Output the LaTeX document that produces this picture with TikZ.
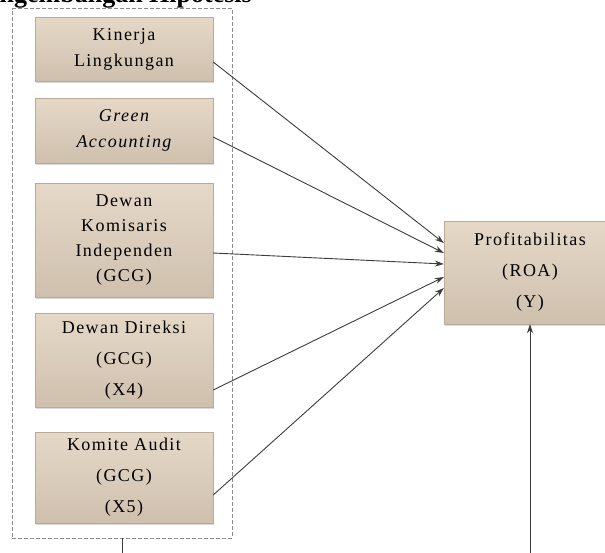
\documentclass[tikz,border=0pt]{standalone}
\usepackage{fontspec}
\setmainfont{Liberation Serif}
\newfontfamily\boxfont[LetterSpace=8]{Liberation Serif}
\usetikzlibrary{arrows.meta,shadows}
\definecolor{boxtop}{RGB}{230,216,199}
\definecolor{boxbot}{RGB}{207,192,174}
\definecolor{boxline}{RGB}{185,170,154}
\definecolor{linegray}{RGB}{60,60,60}
\definecolor{framegray}{RGB}{140,140,140}

\begin{document}
\begin{tikzpicture}[x=1pt,y=-1pt,
	var/.style={draw=boxline,top color=boxtop,bottom color=boxbot,minimum width=178pt,inner sep=0pt,align=center,
		drop shadow={shadow xshift=1.2pt,shadow yshift=-1.5pt,opacity=0.3},font=\boxfont\fontsize{18}{26}\selectfont},
	wide/.style={font=\boxfont\fontsize{18}{31}\selectfont},
	hyp/.style={-{Stealth[length=9pt,width=6pt]},draw=linegray,line width=0.9pt}]
			\useasboundingbox (0,0) rectangle (605,552);
			% judul (terpotong di atas)
			\node[anchor=base east,inner sep=0pt,font=\bfseries\fontsize{26}{26}\selectfont] (judul) at (252,2.5) {Pengembangan Hipotesis};
			% variabel X
			\node[draw=framegray,dash pattern=on 4pt off 2pt,line width=0.8pt,minimum width=220pt,minimum height=529.5pt] (grup) at (122,273.25) {};
			\node[var,minimum height=64pt] (kinerja) at (124,49) {Kinerja\\Lingkungan};
			\node[var,minimum height=65pt] (green) at (124,130.5) {\itshape Green\\\itshape Accounting};
			\node[var,minimum height=114pt,font=\boxfont\fontsize{18}{25}\selectfont] (dki) at (124,240) {Dewan\\Komisaris\\Independen\\(GCG)};
			\node[var,wide,minimum height=94pt] (direksi) at (124,360) {Dewan Direksi\\(GCG)\\(X4)};
			\node[var,wide,minimum height=91pt] (audit) at (124,477.5) {Komite Audit\\(GCG)\\(X5)};
			% variabel Y
			\node[var,wide,minimum width=172pt,minimum height=103pt] (roa) at (530,272.5) {Profitabilitas\\(ROA)\\(Y)};
			\draw[hyp] ([yshift=-13pt]kinerja.east) -- ([yshift=29.5pt]roa.west);
			\draw[hyp] ([yshift=-6.5pt]green.east) -- ([yshift=19.5pt]roa.west);
			\draw[hyp] ([yshift=-13pt]dki.east) -- ([yshift=8.5pt]roa.west);
			\draw[hyp] ([yshift=-30pt]direksi.east) -- ([yshift=-4.5pt]roa.west);
			\draw[hyp] ([yshift=-17.5pt]audit.east) -- ([yshift=-15.5pt]roa.west);
			\coordinate (bawah) at (530,560);
			\draw[hyp] (bawah) -- (roa.south);
			\draw[draw=linegray,line width=0.9pt] (grup.south) -- ++(0,20);
		\end{tikzpicture}
\end{document}
